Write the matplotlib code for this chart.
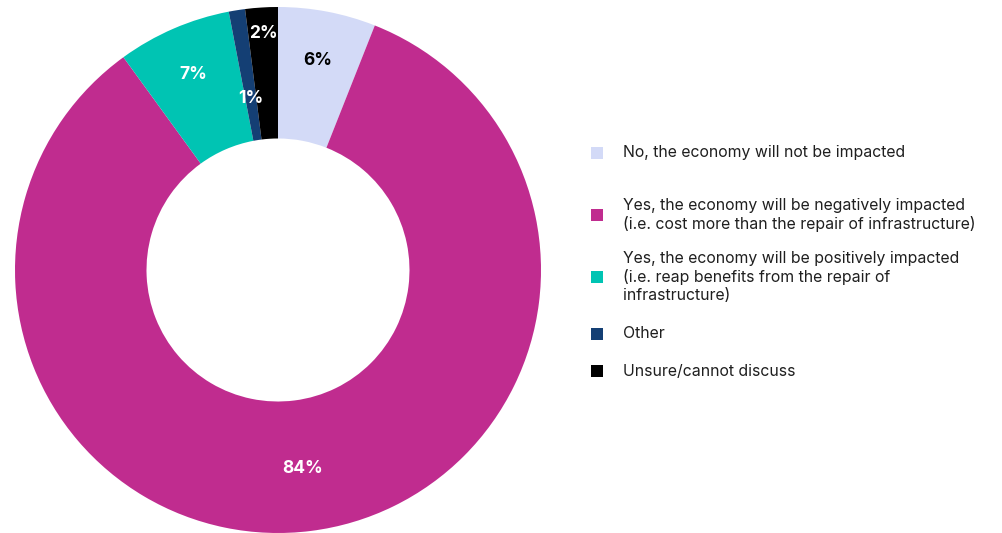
import matplotlib.pyplot as plt
from matplotlib.patches import Rectangle
import numpy as np

plt.rcParams['font.family'] = ['Inter', 'DejaVu Sans']

# survey answers
categories = [
    "No, the economy will not be impacted",
    "Yes, the economy will be negatively impacted\n(i.e. cost more than the repair of infrastructure)",
    "Yes, the economy will be positively impacted\n(i.e. reap benefits from the repair of\ninfrastructure)",
    "Other",
    "Unsure/cannot discuss",
]
shares = [6, 84, 7, 1, 2]
colors = ['#D3DAF7', '#C02C8F', '#00C4B3', '#143F74', '#000000']
label_colors = ['black', 'white', 'white', 'white', 'white']
label_r = [0.81, 0.76, 0.81, 0.66, 0.9]

W, H = 1002, 533
fig = plt.figure(figsize=(W / 100, H / 100), dpi=100)
ax = fig.add_axes([15 / W, 0, 526 / W, 526 / H])
ax.set_aspect('equal')

wedges, _ = ax.pie(shares, colors=colors, startangle=90, counterclock=False,
                   radius=1.0, wedgeprops=dict(width=0.5, edgecolor='none'))

for w, v, c, r in zip(wedges, shares, label_colors, label_r):
    ang = np.deg2rad((w.theta1 + w.theta2) / 2)
    ax.text(r * np.cos(ang), r * np.sin(ang), f"{v}%", ha='center', va='center',
            color=c, fontsize=12.5, fontweight='bold')

ax.set_xlim(-1, 1)
ax.set_ylim(-1, 1)
ax.axis('off')

# legend drawn by hand so rows sit where we want them
rows_y = [153, 215, 277, 334, 371]
for y, cat, col in zip(rows_y, categories, colors):
    fig.patches.append(Rectangle((591 / W, 1 - (y + 6) / H), 12 / W, 12 / H,
                                 transform=fig.transFigure, facecolor=col,
                                 edgecolor='none'))
    fig.text(623 / W, 1 - y / H, cat, ha='left', va='center', fontsize=11.4,
             color='#1f1f1f', linespacing=1.2)

fig.savefig('out.png', dpi=100)
